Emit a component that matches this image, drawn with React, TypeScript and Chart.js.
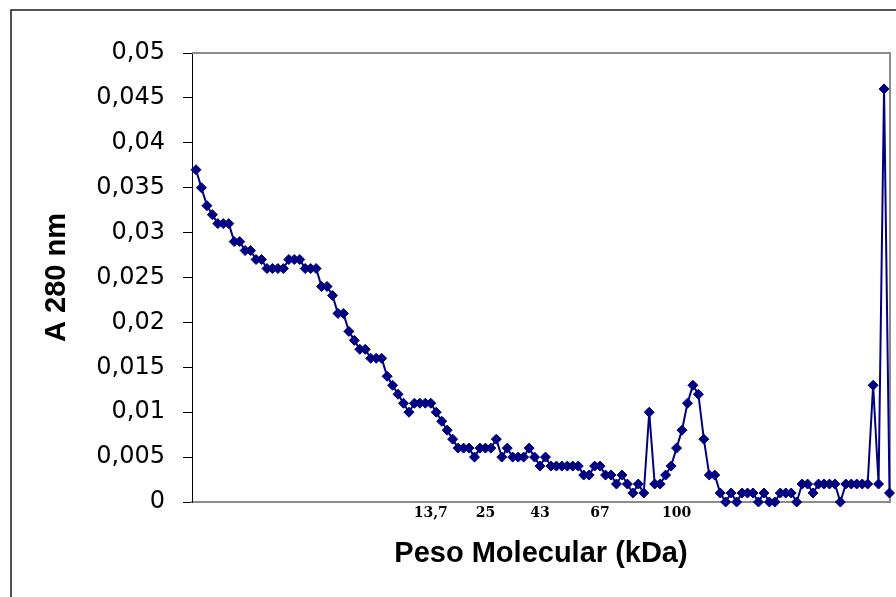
import React, { useEffect, useRef } from 'react';
import { Chart, registerables } from 'chart.js';

Chart.register(...registerables);

// Absorbance (A 280 nm) per fraction
const absorbance = [
  0.037, 0.035, 0.033, 0.032, 0.031, 0.031, 0.031, 0.029, 0.029, 0.028,
  0.028, 0.027, 0.027, 0.026, 0.026, 0.026, 0.026, 0.027, 0.027, 0.027,
  0.026, 0.026, 0.026, 0.024, 0.024, 0.023, 0.021, 0.021, 0.019, 0.018,
  0.017, 0.017, 0.016, 0.016, 0.016, 0.014, 0.013, 0.012, 0.011, 0.010,
  0.011, 0.011, 0.011, 0.011, 0.010, 0.009, 0.008, 0.007, 0.006, 0.006,
  0.006, 0.005, 0.006, 0.006, 0.006, 0.007, 0.005, 0.006, 0.005, 0.005,
  0.005, 0.006, 0.005, 0.004, 0.005, 0.004, 0.004, 0.004, 0.004, 0.004,
  0.004, 0.003, 0.003, 0.004, 0.004, 0.003, 0.003, 0.002, 0.003, 0.002,
  0.001, 0.002, 0.001, 0.010, 0.002, 0.002, 0.003, 0.004, 0.006, 0.008,
  0.011, 0.013, 0.012, 0.007, 0.003, 0.003, 0.001, 0.000, 0.001, 0.000,
  0.001, 0.001, 0.001, 0.000, 0.001, 0.000, 0.000, 0.001, 0.001, 0.001,
  0.000, 0.002, 0.002, 0.001, 0.002, 0.002, 0.002, 0.002, 0.000, 0.002,
  0.002, 0.002, 0.002, 0.002, 0.013, 0.002, 0.046, 0.001,
];

// Molecular weight marker labels and the fraction index they sit under
const markerIndices = [43, 53, 63, 74, 88];
const markerLabels = ['13,7', '25', '43', '67', '100'];

// Axis ranges (x in fraction index units)
const xMin = -0.73;
const xMax = 127.09;
const yMin = 0;
const yMax = 0.05;
const yStep = 0.005;

const points = absorbance.map((v, i) => ({ x: i, y: v }));

const framePlugin = {
  id: 'frame',
  beforeDraw(chart: any) {
    const ctx = chart.ctx;
    ctx.save();
    ctx.fillStyle = '#ffffff';
    ctx.fillRect(0, 0, chart.width, chart.height);
    ctx.strokeStyle = '#1a1a1a';
    ctx.lineWidth = 1.5;
    ctx.strokeRect(11, 10, chart.width + 40, chart.height + 40);
    ctx.restore();
  },
  beforeDatasetsDraw(chart: any) {
    const { ctx, chartArea: a } = chart;
    ctx.save();
    ctx.strokeStyle = '#8c8c8c';
    ctx.lineWidth = 2;
    ctx.beginPath();
    ctx.moveTo(a.left, a.top);
    ctx.lineTo(a.right, a.top);
    ctx.lineTo(a.right, a.bottom);
    ctx.stroke();
    ctx.restore();
  },
};

export default function App() {
  const ref = useRef<HTMLCanvasElement | null>(null);

  useEffect(() => {
    if (!ref.current) return;
    const chart = new Chart(ref.current, {
      type: 'line',
      data: {
        datasets: [
          {
            data: points,
            borderColor: '#000080',
            backgroundColor: '#000080',
            borderWidth: 2,
            pointStyle: 'rectRot',
            pointRadius: 5,
            pointBackgroundColor: '#000080',
            pointBorderColor: '#000080',
            pointBorderWidth: 1,
            tension: 0,
            clip: false as any,
          },
        ],
      },
      options: {
        responsive: false,
        animation: false,
        devicePixelRatio: 1,
        layout: { padding: { left: 0, top: 53, right: 6, bottom: 0 } },
        plugins: {
          legend: { display: false },
          tooltip: { enabled: false },
        },
        scales: {
          x: {
            type: 'linear',
            min: xMin,
            max: xMax,
            grid: { display: false, drawTicks: false },
            border: { display: true, color: '#8c8c8c', width: 2 },
            afterBuildTicks(scale: any) {
              scale.ticks = markerIndices.map((v) => ({ value: v }));
            },
            ticks: {
              autoSkip: false,
              maxRotation: 0,
              minRotation: 0,
              padding: 3,
              color: '#000',
              font: { family: 'DejaVu Serif', weight: 'bold', size: 14 },
              callback: (v: any) => {
                const k = markerIndices.indexOf(Math.round(Number(v)));
                return k >= 0 ? markerLabels[k] : '';
              },
            },
            title: {
              display: true,
              text: 'Peso Molecular (kDa)',
              color: '#000',
              font: { family: 'Liberation Sans', weight: 'bold', size: 29 },
              padding: { top: 0, bottom: 26 },
            },
            afterFit(scale: any) {
              scale.height = 95;
            },
          },
          y: {
            min: yMin,
            max: yMax,
            grid: {
              display: true,
              drawOnChartArea: false,
              drawTicks: true,
              tickLength: 9,
              color: '#000',
              lineWidth: 1,
            },
            border: { display: true, color: '#000', width: 1 },
            ticks: {
              stepSize: yStep,
              padding: 18,
              color: '#000',
              font: { family: 'DejaVu Sans', size: 24 },
              callback: (v: any) => {
                const n = Math.round(Number(v) * 1000) / 1000;
                return n === 0 ? '0' : String(n).replace('.', ',');
              },
            },
            title: {
              display: true,
              text: 'A 280 nm',
              color: '#000',
              font: { family: 'Liberation Sans', weight: 'bold', size: 29 },
              padding: { top: 40, bottom: 0 },
            },
            afterFit(scale: any) {
              scale.width = 192;
            },
          },
        },
      },
      plugins: [framePlugin],
    });
    return () => chart.destroy();
  }, []);

  return (
    <div style={{ position: 'fixed', left: 0, top: 0, width: 896, height: 597, overflow: 'hidden' }}>
      <canvas ref={ref} width={896} height={597} style={{ display: 'block' }} />
    </div>
  );
}
